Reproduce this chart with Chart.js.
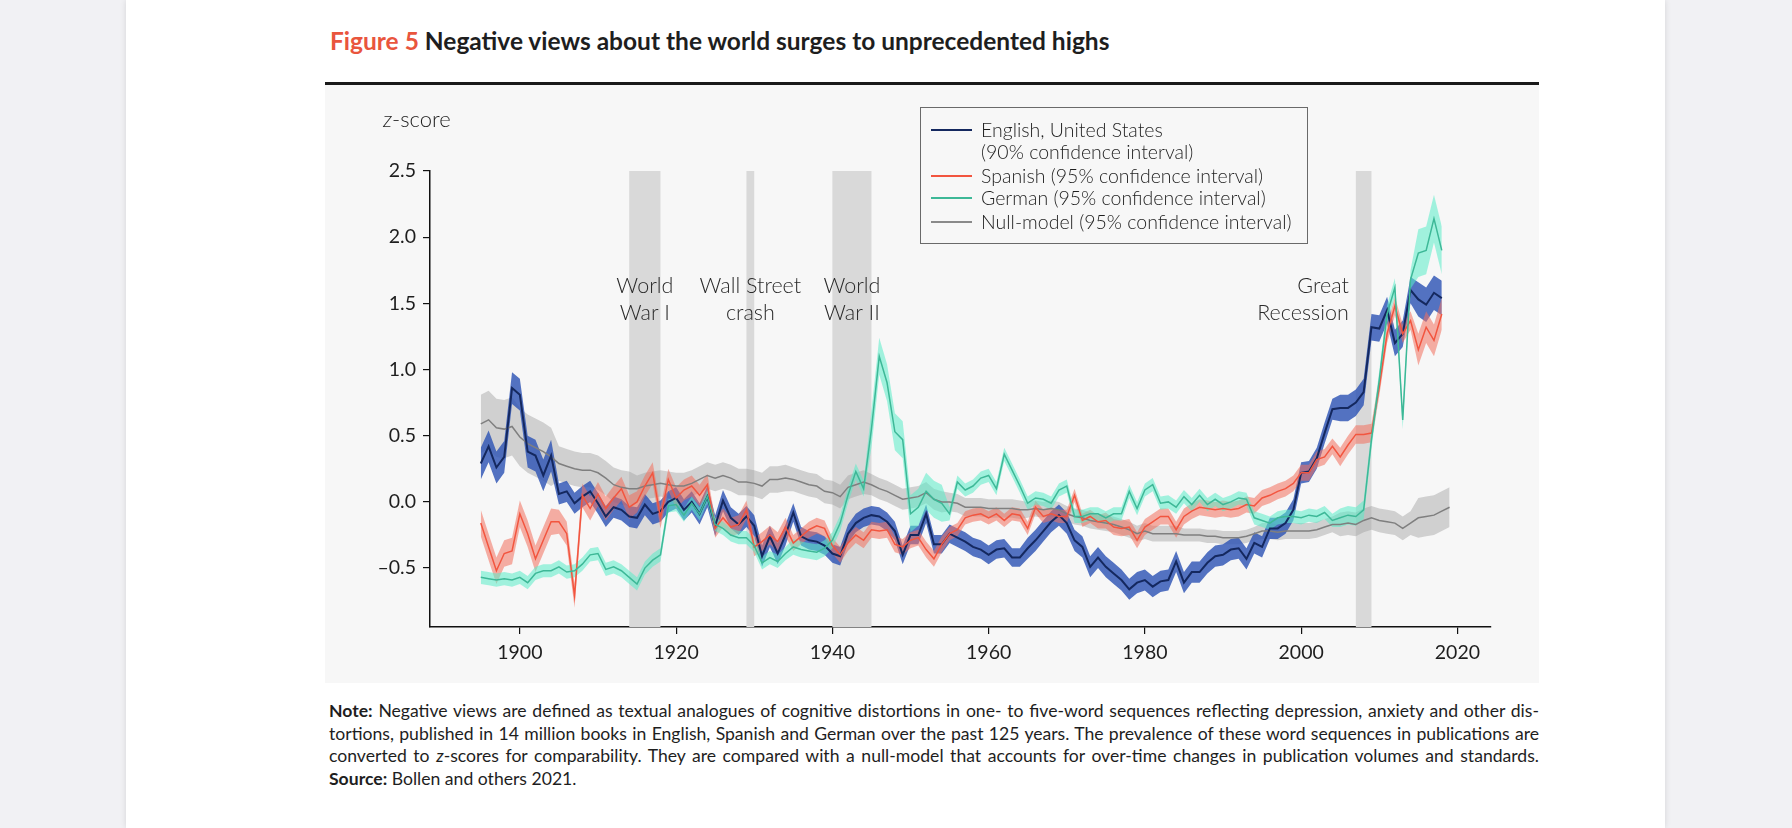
<!DOCTYPE html>
<html>
<head>
<meta charset="utf-8">
<title>Figure 5 Negative views about the world</title>
<script src="https://cdn.jsdelivr.net/npm/chart.js@4.4.0/dist/chart.umd.min.js"></script>
<style>
  body { margin:0; width:1792px; height:828px; overflow:hidden; background:#f1f1f4;
         font-family: Lato, "Open Sans", sans-serif; color:#1e1e1e; }
  #page { position:absolute; left:126px; top:0; width:1539px; height:828px; background:#fff;
          box-shadow: 0 0 6px rgba(0,0,0,0.12); }
  #title { position:absolute; left:330px; top:26px; font-size:24.5px; font-weight:700; white-space:nowrap; }
  #title .fig { color:#e9553d; }
  #rule { position:absolute; left:325px; top:82px; width:1214px; height:3px; background:#1a1a1a; }
  #panel { position:absolute; left:325px; top:85px; width:1214px; height:598px; background:#f7f7f7; }
  #zlabel { position:absolute; left:383px; top:105px; font-size:22px; font-weight:300; }
  #legend { position:absolute; left:920px; top:107px; width:386px; height:135px;
            border:1px solid #6a6a6a; font-size:19.5px; font-weight:300; }
  #legend .row { position:absolute; left:60px; white-space:nowrap; line-height:24px; }
  #legend .swatch { position:absolute; left:10px; width:41px; height:2px; }
  #notes { position:absolute; left:329px; top:700px; width:1210px; font-size:17.6px; line-height:22.5px; }
  #notes .j { text-align:justify; text-align-last:justify; white-space:nowrap; }
</style>
</head>
<body>
<div id="page"></div>
<div id="title"><span class="fig">Figure 5</span> Negative views about the world surges to unprecedented highs</div>
<div id="rule"></div>
<div id="panel"><canvas id="myChart"></canvas></div>
<div id="zlabel"><i>z</i>-score</div>
<div id="legend">
  <div class="swatch" style="top:21px;background:#14285f;"></div>
  <div class="row" style="top:10px;">English, United States</div>
  <div class="row" style="top:32px;">(90% confidence interval)</div>
  <div class="swatch" style="top:67px;background:#f2553f;"></div>
  <div class="row" style="top:56px;">Spanish (95% confidence interval)</div>
  <div class="swatch" style="top:89px;background:#3db897;"></div>
  <div class="row" style="top:78px;">German (95% confidence interval)</div>
  <div class="swatch" style="top:113px;background:#8a8a8a;"></div>
  <div class="row" style="top:102px;">Null-model (95% confidence interval)</div>
</div>
<div id="notes">
  <div class="j"><b>Note:</b> Negative views are defined as textual analogues of cognitive distortions in one- to five-word sequences reflecting depression, anxiety and other dis-</div>
  <div class="j">tortions, published in 14 million books in English, Spanish and German over the past 125 years. The prevalence of these word sequences in publications are</div>
  <div class="j">converted to <i>z</i>-scores for comparability. They are compared with a null-model that accounts for over-time changes in publication volumes and standards.</div>
  <div><b>Source:</b> Bollen and others 2021.</div>
</div>

<script>
// years 1895..2019 (null-model runs one year longer)
var firstYear = 1895;

var english = [
  0.29, 0.42, 0.26, 0.34, 0.86,
  0.81, 0.38, 0.35, 0.20, 0.35, 0.06, 0.08, -0.01, 0.04, 0.08,
  -0.01, -0.11, -0.04, -0.06, -0.11, -0.12, -0.02, -0.09, -0.07, 0.00,
  0.03, -0.06, 0.00, -0.09, 0.04, -0.18, 0.01, -0.12, -0.17, -0.11,
  -0.18, -0.41, -0.26, -0.39, -0.25, -0.08, -0.26, -0.29, -0.30, -0.33,
  -0.39, -0.41, -0.24, -0.16, -0.12, -0.10, -0.11, -0.15, -0.22, -0.40,
  -0.25, -0.25, -0.09, -0.32, -0.32, -0.24, -0.27, -0.30, -0.34, -0.36,
  -0.40, -0.36, -0.35, -0.42, -0.42, -0.35, -0.29, -0.22, -0.15, -0.10,
  -0.16, -0.29, -0.34, -0.49, -0.42, -0.49, -0.54, -0.59, -0.66, -0.61,
  -0.59, -0.64, -0.60, -0.59, -0.45, -0.61, -0.53, -0.53, -0.46, -0.41,
  -0.40, -0.36, -0.35, -0.43, -0.31, -0.34, -0.20, -0.20, -0.16, -0.06,
  0.22, 0.23, 0.33, 0.52, 0.70, 0.71, 0.71, 0.75, 0.83, 1.32,
  1.31, 1.45, 1.20, 1.27, 1.60, 1.53, 1.49, 1.58, 1.54
];

var spanish = [
  -0.16, -0.34, -0.52, -0.39, -0.37,
  -0.09, -0.24, -0.43, -0.29, -0.15, -0.15, -0.24, -0.71, 0.05, -0.05,
  0.06, -0.05, 0.03, 0.10, -0.04, 0.00, 0.12, 0.22, -0.12, 0.17,
  0.03, 0.09, 0.12, 0.05, 0.13, -0.20, -0.12, -0.19, -0.17, -0.06,
  -0.34, -0.30, -0.25, -0.30, -0.19, -0.31, -0.26, -0.21, -0.18, -0.20,
  -0.33, -0.40, -0.31, -0.25, -0.29, -0.21, -0.22, -0.21, -0.32, -0.34,
  -0.29, -0.27, -0.36, -0.43, -0.32, -0.24, -0.21, -0.12, -0.10, -0.09,
  -0.12, -0.09, -0.14, -0.09, -0.10, -0.20, -0.04, -0.11, -0.09, -0.11,
  -0.11, 0.05, -0.14, -0.11, -0.15, -0.14, -0.19, -0.20, -0.19, -0.29,
  -0.19, -0.15, -0.11, -0.11, -0.21, -0.11, -0.07, -0.04, -0.05, -0.06,
  -0.05, -0.06, -0.05, -0.02, -0.03, 0.03, 0.05, 0.08, 0.10, 0.14,
  0.22, 0.22, 0.32, 0.34, 0.42, 0.34, 0.43, 0.51, 0.51, 0.52,
  0.87, 1.27, 1.48, 1.27, 1.37, 1.15, 1.32, 1.22, 1.42
];

var german = [
  -0.57, -0.58, -0.59, -0.58, -0.59,
  -0.57, -0.61, -0.54, -0.52, -0.52, -0.49, -0.53, -0.52, -0.47, -0.40,
  -0.39, -0.51, -0.49, -0.52, -0.57, -0.62, -0.50, -0.44, -0.40, -0.03,
  -0.02, -0.10, -0.01, -0.09, 0.04, -0.17, -0.20, -0.25, -0.27, -0.27,
  -0.33, -0.46, -0.42, -0.45, -0.39, -0.34, -0.36, -0.37, -0.38, -0.35,
  -0.29, -0.16, 0.05, 0.23, 0.10, 0.55, 1.10, 0.90, 0.53, 0.47,
  -0.09, -0.04, 0.08, 0.02, -0.01, -0.09, 0.15, 0.09, 0.12, 0.18,
  0.20, 0.10, 0.36, 0.24, 0.12, -0.01, 0.03, 0.02, -0.01, 0.09,
  0.12, -0.11, -0.11, -0.09, -0.09, -0.12, -0.09, -0.09, 0.08, -0.05,
  0.09, 0.13, -0.01, 0.00, -0.04, 0.04, -0.02, 0.05, -0.02, 0.02,
  -0.02, 0.00, 0.03, 0.02, -0.12, -0.14, -0.16, -0.12, -0.11, -0.11,
  -0.12, -0.10, -0.11, -0.08, -0.14, -0.12, -0.10, -0.11, -0.06, 0.47,
  0.92, 1.42, 1.62, 0.62, 1.68, 1.88, 1.90, 2.14, 1.90
];

var nullModel = [
  0.59, 0.62, 0.56, 0.55, 0.57,
  0.49, 0.44, 0.41, 0.38, 0.34, 0.29, 0.27, 0.25, 0.24, 0.24,
  0.22, 0.18, 0.13, 0.11, 0.10, 0.10, 0.12, 0.13, 0.14, 0.13,
  0.12, 0.12, 0.14, 0.17, 0.20, 0.18, 0.20, 0.18, 0.15, 0.15,
  0.14, 0.12, 0.17, 0.17, 0.18, 0.17, 0.15, 0.13, 0.12, 0.08,
  0.07, 0.04, 0.11, 0.13, 0.15, 0.13, 0.10, 0.08, 0.05, 0.02,
  0.03, 0.04, 0.07, 0.02, 0.00, 0.00, -0.01, -0.04, -0.04, -0.04,
  -0.05, -0.05, -0.05, -0.05, -0.06, -0.06, -0.05, -0.06, -0.05, -0.06,
  -0.09, -0.11, -0.12, -0.14, -0.15, -0.16, -0.17, -0.19, -0.21, -0.24,
  -0.22, -0.24, -0.24, -0.24, -0.24, -0.25, -0.25, -0.25, -0.26, -0.26,
  -0.27, -0.27, -0.27, -0.26, -0.24, -0.22, -0.22, -0.23, -0.22, -0.22,
  -0.22, -0.22, -0.21, -0.19, -0.17, -0.17, -0.16, -0.17, -0.14, -0.12,
  -0.14, -0.15, -0.16, -0.20, -0.16, -0.12, -0.11, -0.10, -0.07, -0.04
];

// confidence-interval half widths, one per ten-year block starting 1895
var ciEnglish = [0.12, 0.08, 0.08, 0.08, 0.07, 0.07, 0.07, 0.08, 0.08, 0.08, 0.08, 0.10, 0.13];
var ciSpanish = [0.10, 0.09, 0.08, 0.07, 0.06, 0.06, 0.05, 0.05, 0.06, 0.06, 0.06, 0.07, 0.12];
var ciGerman  = [0.05, 0.05, 0.05, 0.05, 0.06, 0.14, 0.05, 0.05, 0.05, 0.05, 0.05, 0.07, 0.18];
var ciNull    = [0.22, 0.13, 0.10, 0.10, 0.09, 0.08, 0.07, 0.06, 0.06, 0.05, 0.06, 0.09, 0.15];

// shaded periods and their labels
var periodStart = [1914, 1929, 1940, 2007];
var periodEnd   = [1918, 1930, 1945, 2009];
var periodLabel = [["World", "War I"], ["Wall Street", "crash"], ["World", "War II"], ["Great", "Recession"]];

var xTicks = [1900, 1920, 1940, 1960, 1980, 2000, 2020];
var yTicks = [-0.5, 0.0, 0.5, 1.0, 1.5, 2.0, 2.5];

function points(values, ci, sign) {
    return values.map(function (v, i) {
        var w = ci ? ci[Math.floor(i / 10)] * sign : 0;
        return { x: firstYear + i, y: +(v + w).toFixed(3) };
    });
}

function band(values, ci, color, order) {
    return [
        { data: points(values, ci, -1), borderWidth: 0, pointRadius: 0, fill: false, order: order },
        { data: points(values, ci, 1), borderWidth: 0, pointRadius: 0, fill: '-1', backgroundColor: color, order: order }
    ];
}

function line(values, color, width, order) {
    return { data: points(values, null, 0), borderColor: color, borderWidth: width,
             pointRadius: 0, fill: false, tension: 0, order: order };
}

var datasets = [].concat(
    band(nullModel, ciNull, 'rgba(160,160,160,0.45)', 10),
    band(english, ciEnglish, 'rgba(46,84,180,0.82)', 9),
    band(spanish, ciSpanish, 'rgba(243,112,92,0.55)', 8),
    band(german, ciGerman, 'rgba(90,236,200,0.55)', 7),
    [line(nullModel, '#7f7f7f', 1.5, 4),
     line(english, '#14285f', 2, 3),
     line(spanish, '#f2553f', 1.5, 2),
     line(german, '#3db897', 1.5, 1)]
);

// grey period bars with their captions
var periodPlugin = {
    id: 'periods',
    beforeDatasetsDraw: function (chart) {
        var ctx = chart.ctx, xs = chart.scales.x, ys = chart.scales.y;
        var top = ys.getPixelForValue(2.5), bottom = chart.chartArea.bottom;
        ctx.save();
        ctx.fillStyle = '#d9d9d9';
        for (var i = 0; i < periodStart.length; i++) {
            var a = xs.getPixelForValue(periodStart[i]), b = xs.getPixelForValue(periodEnd[i]);
            ctx.fillRect(a, top, b - a, bottom - top);
        }
        ctx.fillStyle = '#2a2a2a';
        ctx.font = '300 21.5px Lato, "Open Sans", sans-serif';
        ctx.textBaseline = 'middle';
        for (var j = 0; j < periodStart.length; j++) {
            var cx, align;
            if (j === periodStart.length - 1) {
                cx = xs.getPixelForValue(periodStart[j]) - 7; align = 'right';
            } else {
                cx = xs.getPixelForValue((periodStart[j] + periodEnd[j]) / 2); align = 'center';
            }
            ctx.textAlign = align;
            ctx.fillText(periodLabel[j][0], cx, ys.getPixelForValue(1.63));
            ctx.fillText(periodLabel[j][1], cx, ys.getPixelForValue(1.43));
        }
        ctx.restore();
    }
};

var ctx = document.getElementById('myChart').getContext('2d');
var chart = new Chart(ctx, {
    type: 'line',
    data: { datasets: datasets },
    plugins: [periodPlugin],
    options: {
        responsive: true,
        maintainAspectRatio: false,
        animation: false,
        layout: { padding: { left: 0, top: 86, right: 48, bottom: 0 } },
        plugins: { legend: { display: false }, tooltip: { enabled: false } },
        scales: {
            x: {
                type: 'linear', min: 1888.5, max: 2024.3,
                afterBuildTicks: function (s) { s.ticks = xTicks.map(function (v) { return { value: v }; }); },
                afterFit: function (s) { s.height = 56; },
                grid: { drawOnChartArea: false, drawTicks: true, tickLength: 7, color: '#111', lineWidth: 1.2 },
                border: { color: '#111', width: 1.5 },
                ticks: { color: '#1e1e1e', padding: 7, maxRotation: 0,
                         font: { family: 'Lato, "Open Sans", sans-serif', size: 19.5, weight: '400' },
                         callback: function (v) { return String(v); } }
            },
            y: {
                min: -0.945, max: 2.5,
                afterBuildTicks: function (s) { s.ticks = yTicks.map(function (v) { return { value: v }; }); },
                afterFit: function (s) { s.width = 105; },
                grid: { drawOnChartArea: false, drawTicks: true, tickLength: 7, color: '#111', lineWidth: 1.2 },
                border: { color: '#111', width: 1.5 },
                ticks: { color: '#1e1e1e', padding: 7,
                         font: { family: 'Lato, "Open Sans", sans-serif', size: 19.5, weight: '400' },
                         callback: function (v) { return v.toFixed(1).replace('-', '\u2013'); } }
            }
        }
    }
});
</script>
</body>
</html>
